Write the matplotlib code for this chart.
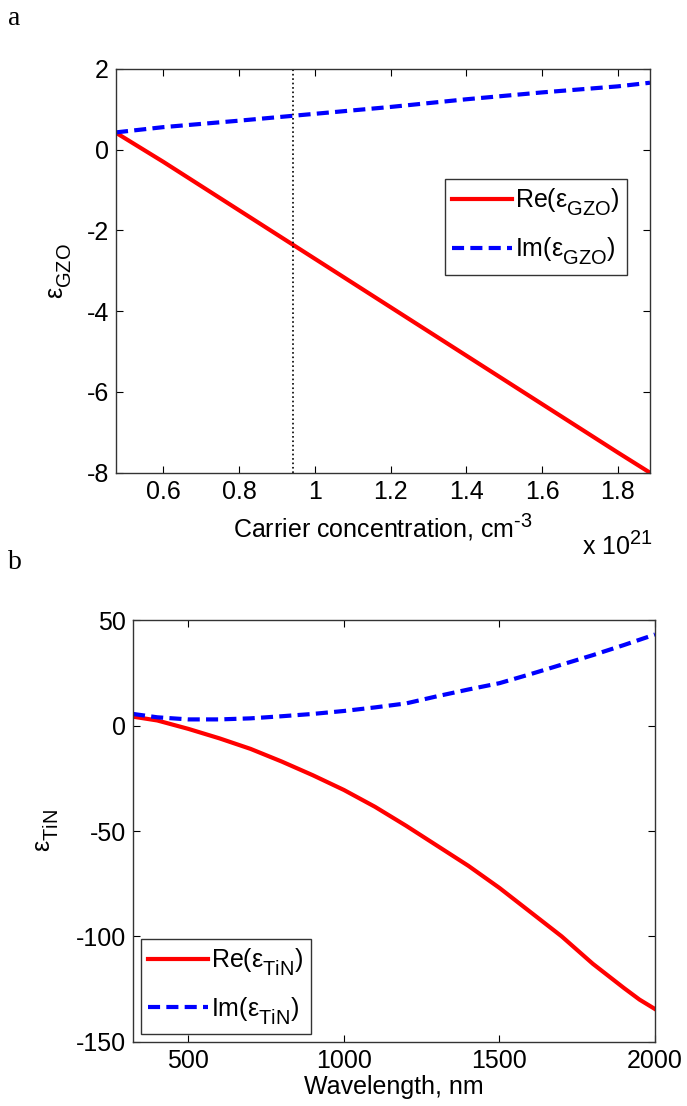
import numpy as np
import matplotlib
matplotlib.use("Agg")
import matplotlib.pyplot as plt
import matplotlib._mathtext as mt

plt.rcParams['font.family'] = ['Liberation Sans', 'DejaVu Sans']
plt.rcParams['mathtext.fontset'] = 'custom'
plt.rcParams['mathtext.rm'] = 'Liberation Sans'
plt.rcParams['mathtext.it'] = 'Liberation Sans'
plt.rcParams['axes.unicode_minus'] = False
# larger, lower subscripts
mt.SHRINK_FACTOR = 0.8
mt.FontConstantsBase.sub1 = 0.6
mt.FontConstantsBase.sub2 = 0.8

# GZO permittivity vs carrier concentration (x 1e21 cm^-3)
conc = [0.475, 0.6, 0.8, 1.0, 1.2, 1.4, 1.6, 1.8, 1.885]
re_gzo = [0.42, -0.3, -1.5, -2.7, -3.9, -5.1, -6.3, -7.5, -8.0]
im_gzo = [0.43, 0.56, 0.72, 0.89, 1.06, 1.25, 1.42, 1.57, 1.66]
conc_mark = 0.942

# TiN permittivity vs wavelength (nm)
wl = [322, 400, 500, 600, 700, 800, 900, 1000, 1100, 1200, 1300, 1400, 1500,
      1600, 1700, 1800, 1900, 1950, 2000]
re_tin = [4.3, 2.5, -1.5, -6.0, -11.0, -17.0, -23.5, -30.5, -38.5, -47.5, -57.0,
          -66.5, -77.0, -88.5, -100.0, -113.0, -124.5, -130.0, -134.5]
im_tin = [5.6, 4.0, 3.0, 3.0, 3.5, 4.5, 5.6, 7.0, 8.7, 10.6, 14.0, 17.2, 20.2,
          24.5, 29.0, 33.5, 38.3, 40.8, 43.3]

W, H = 687, 1106
FS = 18
fig = plt.figure(figsize=(W / 100, H / 100), dpi=100)

def box(l, r, t, b):
    return [l / W, 1 - b / H, (r - l) / W, (b - t) / H]

def style(ax):
    ax.tick_params(direction='in', top=True, right=True, length=5, width=0.8,
                   labelsize=FS, pad=5)
    for s in ax.spines.values():
        s.set_color('#333333')
        s.set_linewidth(1.0)

red = '#ff0000'
blue = '#0000ff'

def legend(ax, **kw):
    leg = ax.legend(fontsize=FS, fancybox=False, edgecolor='#333333', framealpha=1,
                    handlelength=2.4, handletextpad=0.1, borderpad=0.3,
                    labelspacing=0.7, borderaxespad=0, **kw)
    leg.get_frame().set_linewidth(1.0)

# panel a
ax1 = fig.add_axes(box(116, 650, 69, 472.7))
ax1.plot(conc, re_gzo, color=red, lw=3, label=r'Re(ε$_{\mathregular{GZO}}$)')
l, = ax1.plot(conc, im_gzo, color=blue, lw=3, label=r'Im(ε$_{\mathregular{GZO}}$)')
l.set_dashes([2.9, 1.5])
ax1.axvline(conc_mark, color='k', ls=':', lw=1.2)
ax1.set_xlim(0.475, 1.885)
ax1.set_ylim(-8, 2)
ax1.set_xticks([0.6, 0.8, 1.0, 1.2, 1.4, 1.6, 1.8])
ax1.set_xticklabels(['0.6', '0.8', '1', '1.2', '1.4', '1.6', '1.8'])
ax1.set_yticks([-8, -6, -4, -2, 0, 2])
style(ax1)
ax1.set_xlabel('Carrier concentration, cm$^{\mathregular{\u20103}}$', fontsize=FS, labelpad=6)
ax1.set_ylabel(r'ε$_{\mathregular{GZO}}$', fontsize=FS)
ax1.yaxis.set_label_coords(-0.078, 0.5)
legend(ax1, loc='upper left', bbox_to_anchor=(0.616, 0.727))
fig.text(582 / W, 1 - 555 / H, r'x 10$^{21}$', fontsize=FS, va='baseline')

# panel b
ax2 = fig.add_axes(box(133, 655, 620.4, 1041.7))
ax2.plot(wl, re_tin, color=red, lw=3, label=r'Re(ε$_{\mathregular{TiN}}$)')
l, = ax2.plot(wl, im_tin, color=blue, lw=3, label=r'Im(ε$_{\mathregular{TiN}}$)')
l.set_dashes([2.9, 1.5])
ax2.set_xlim(322, 2000)
ax2.set_ylim(-150, 50)
ax2.set_xticks([500, 1000, 1500, 2000])
ax2.set_yticks([-150, -100, -50, 0, 50])
style(ax2)
ax2.set_xlabel('Wavelength, nm', fontsize=FS, labelpad=2)
ax2.set_ylabel(r'ε$_{\mathregular{TiN}}$', fontsize=FS)
ax2.yaxis.set_label_coords(-0.138, 0.5)
legend(ax2, loc='lower left', bbox_to_anchor=(0.015, 0.018))

fig.text(8 / W, 1 - 6 / H, 'a', fontsize=20, family='Liberation Serif', va='top')
fig.text(8 / W, 1 - 550 / H, 'b', fontsize=20, family='Liberation Serif', va='top')

fig.savefig('out.png', dpi=100)
